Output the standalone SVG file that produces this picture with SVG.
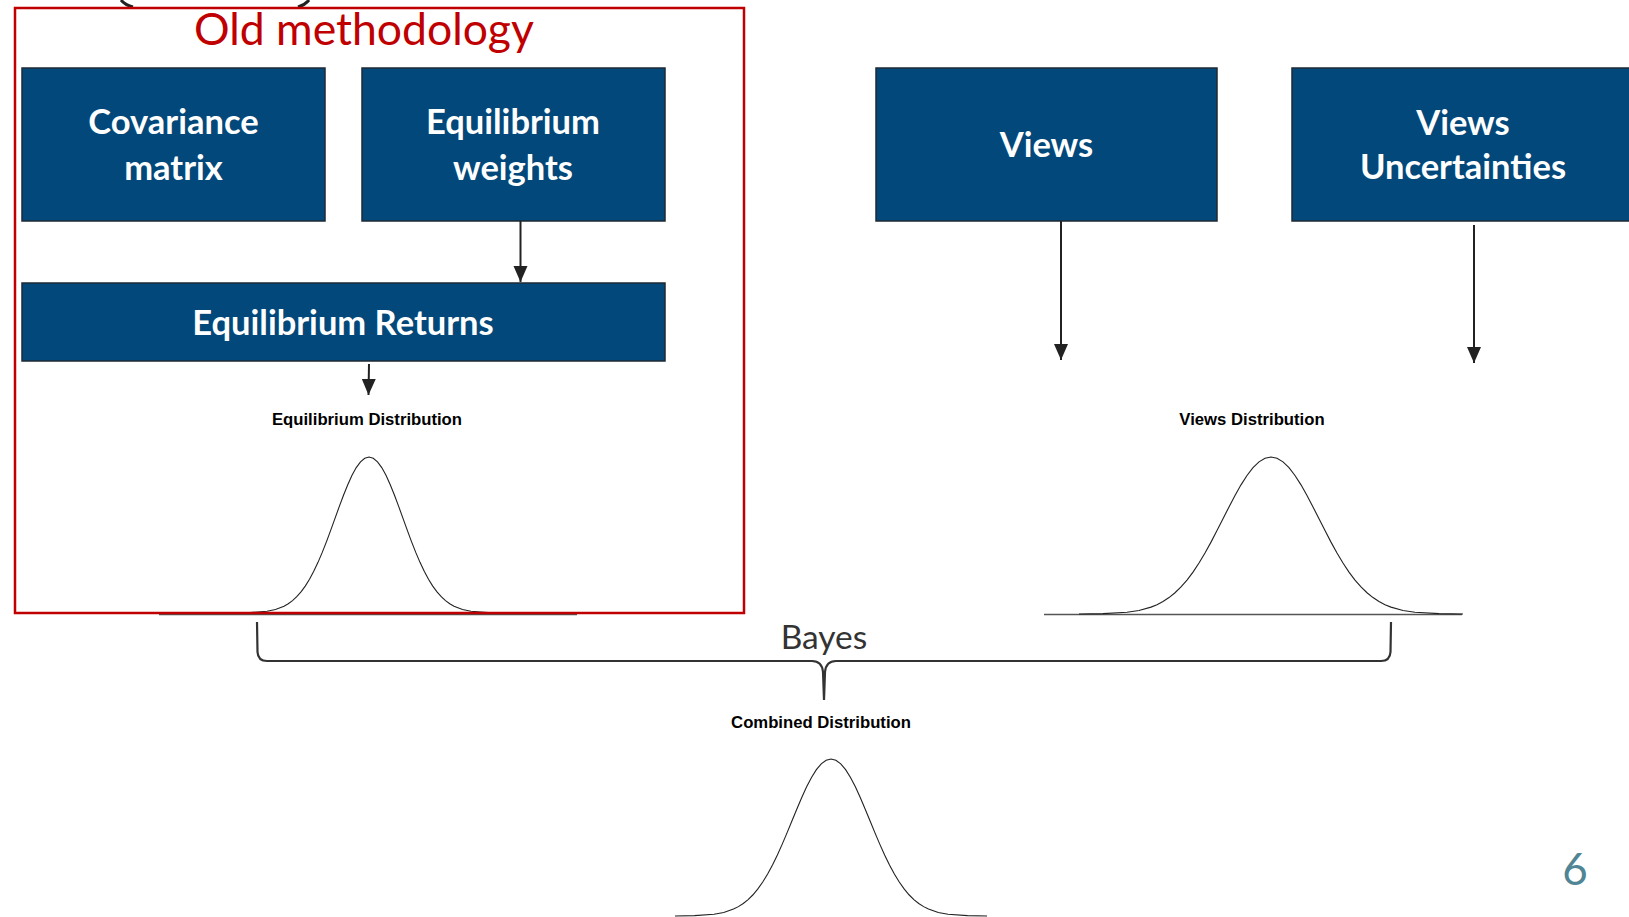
<svg xmlns="http://www.w3.org/2000/svg" xmlns:xlink="http://www.w3.org/1999/xlink" width="1629" height="917" viewBox="0 0 1629 917">
<style>
.box{fill:#03487A;stroke:#1e2a36;stroke-width:1.5}
.bt{font-family:Lato,"Open Sans","Liberation Sans",sans-serif;font-weight:700;font-size:34.5px;fill:#ffffff;text-anchor:middle}
.dl{font-family:"Liberation Sans",Arial,sans-serif;font-weight:700;font-size:16.7px;fill:#000;text-anchor:middle}
.curve{fill:none;stroke:#222;stroke-width:1.1}
.base{stroke:#555;stroke-width:1.5}
.con{fill:none;stroke:#222;stroke-width:2}
.brace{fill:none;stroke:#333;stroke-width:2.2}
</style>
<defs>
<marker id="ah" markerUnits="userSpaceOnUse" markerWidth="16" markerHeight="16" refX="16" refY="7" orient="auto">
<path d="M0,0 L16,7 L0,14 Z" fill="#222"/>
</marker>
<path id="gauss" vector-effect="non-scaling-stroke" d="M-4,-0.0003 L-3.5,-0.0022 L-3,-0.0111 L-2.75,-0.0228 L-2.5,-0.0439 L-2.375,-0.0596 L-2.25,-0.0796 L-2.125,-0.1046 L-2,-0.1353 L-1.875,-0.1724 L-1.75,-0.2163 L-1.625,-0.2671 L-1.5,-0.3247 L-1.375,-0.3886 L-1.25,-0.4578 L-1.125,-0.5311 L-1,-0.6065 L-0.875,-0.6819 L-0.75,-0.7548 L-0.625,-0.8226 L-0.5,-0.8825 L-0.375,-0.9321 L-0.25,-0.9692 L-0.125,-0.9922 L0,-1 L0.125,-0.9922 L0.25,-0.9692 L0.375,-0.9321 L0.5,-0.8825 L0.625,-0.8226 L0.75,-0.7548 L0.875,-0.6819 L1,-0.6065 L1.125,-0.5311 L1.25,-0.4578 L1.375,-0.3886 L1.5,-0.3247 L1.625,-0.2671 L1.75,-0.2163 L1.875,-0.1724 L2,-0.1353 L2.125,-0.1046 L2.25,-0.0796 L2.375,-0.0596 L2.5,-0.0439 L2.75,-0.0228 L3,-0.0111 L3.5,-0.0022 L4,-0.0003"/>
</defs>
<rect width="1629" height="917" fill="#ffffff"/>

<!-- cut-off shape at top -->
<path d="M121,0 Q125,5 133,7 M309,0 Q305,5 298,7" fill="none" stroke="#222" stroke-width="3"/>

<g id="covariance">
<rect class="box" x="22" y="68" width="303" height="153"/>
<text class="bt" x="173.5" y="134">Covariance</text>
<text class="bt" x="173.5" y="180">matrix</text>
</g>
<g id="eq-weights">
<rect class="box" x="362" y="68" width="303" height="153"/>
<text class="bt" x="513" y="134">Equilibrium</text>
<text class="bt" x="513" y="180">weights</text>
</g>
<g id="eq-returns">
<rect class="box" x="22" y="283" width="643" height="78"/>
<text class="bt" x="343" y="335">Equilibrium Returns</text>
</g>
<g id="views">
<rect class="box" x="876" y="68" width="341" height="153"/>
<text class="bt" x="1046.5" y="157">Views</text>
</g>
<g id="views-unc">
<rect class="box" x="1292" y="68" width="345" height="153"/>
<text class="bt" x="1463" y="135">Views</text>
<text class="bt" x="1463" y="179">Uncertainties</text>
</g>

<g id="eq-dist">
<text class="dl" x="367" y="425">Equilibrium Distribution</text>
<line class="base" x1="159" y1="614.5" x2="577" y2="614.5"/>
<use xlink:href="#gauss" class="curve" transform="translate(369,613) scale(34,156)"/>
</g>
<g id="views-dist">
<text class="dl" x="1252" y="425">Views Distribution</text>
<line class="base" x1="1044" y1="614.5" x2="1462" y2="614.5"/>
<use xlink:href="#gauss" class="curve" transform="translate(1271,614) scale(48,157)"/>
</g>
<g id="combined-dist">
<text class="dl" x="821" y="728">Combined Distribution</text>
<use xlink:href="#gauss" class="curve" transform="translate(831,916) scale(39,157)"/>
</g>

<g id="old-methodology">
<rect x="15" y="8" width="729" height="605" fill="none" stroke="#C00000" stroke-width="2.5"/>
<text x="364" y="45" font-family="Lato,'Open Sans','Liberation Sans',sans-serif" font-size="44.5" fill="#C00000" text-anchor="middle">Old methodology</text>
</g>

<g id="connectors">
<path class="con" d="M520.5,221 L520.5,282" marker-end="url(#ah)"/>
<path class="con" d="M369,364 L368.5,395" marker-end="url(#ah)"/>
<path class="con" d="M1061,221 L1061,360" marker-end="url(#ah)"/>
<path class="con" d="M1474,225 L1474,363" marker-end="url(#ah)"/>
<path class="brace" d="M257,622 L257.5,652 Q258,661 267,661 L812,661 Q822,661 823,672 L824,700 M824,700 L825,672 Q826,661 836,661 L1381,661 Q1390,661 1390.5,652 L1391,622"/>
</g>
<text id="bayes" x="824" y="649" font-family="Lato,'Open Sans','Liberation Sans',sans-serif" font-size="33.5" fill="#333" text-anchor="middle">Bayes</text>
<text id="page-num" x="1575" y="885" font-family="Lato,'Open Sans','Liberation Sans',sans-serif" font-size="44" fill="#4F8594" text-anchor="middle">6</text>
</svg>
